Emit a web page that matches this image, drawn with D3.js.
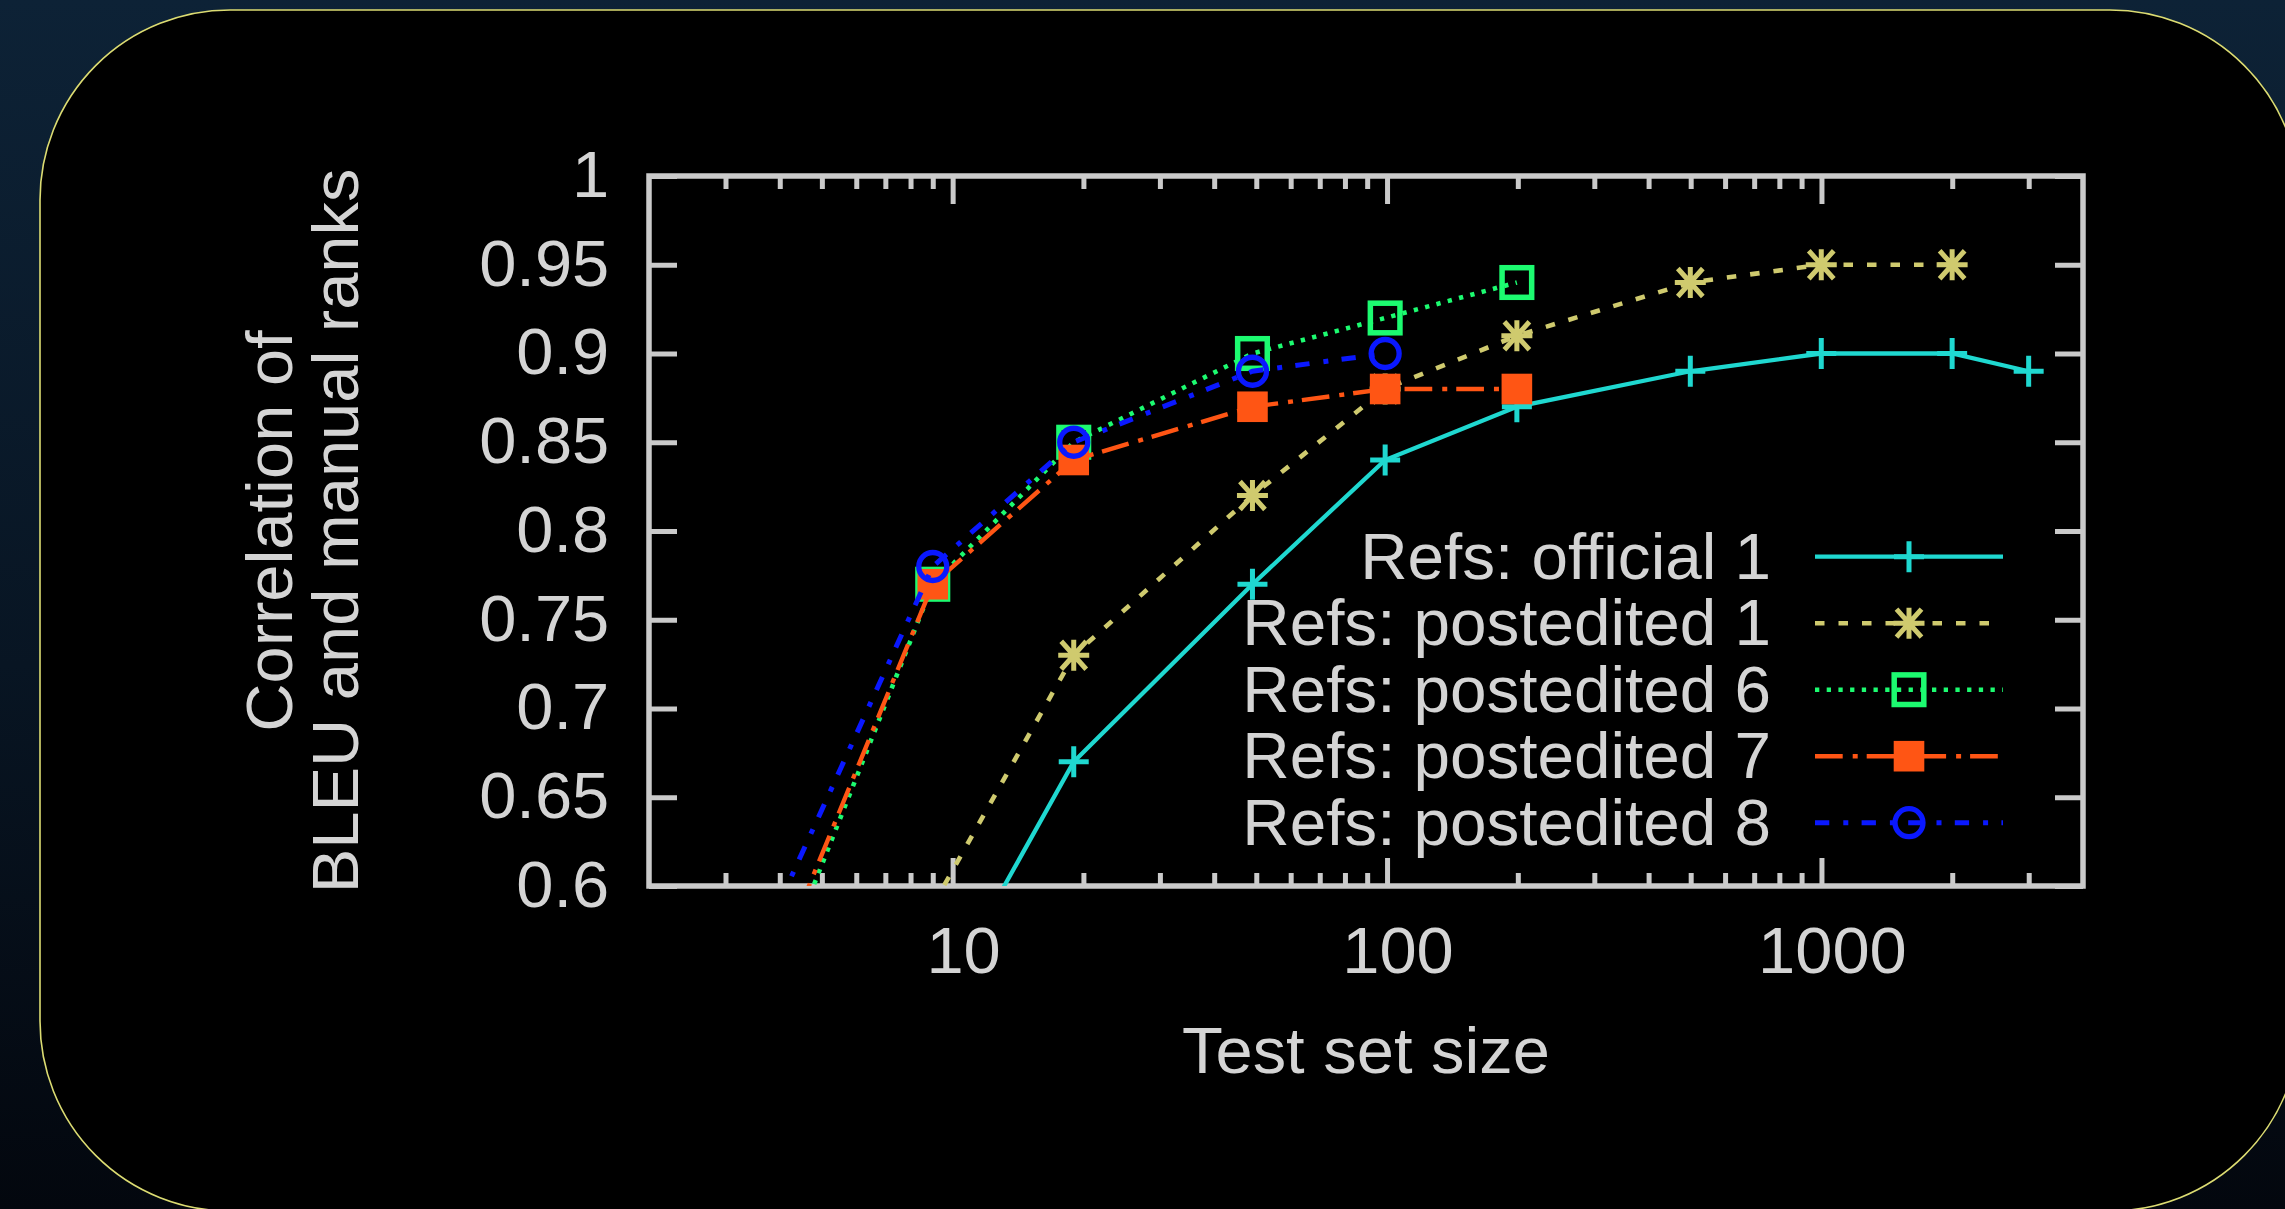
<!DOCTYPE html>
<html>
<head>
<meta charset="utf-8">
<script src="https://cdn.jsdelivr.net/npm/d3@7"></script>
<style>
  body { margin: 0; background: #050b15; }
  svg { display: block; }
  text { font-family: "Liberation Sans", Arial, sans-serif; fill: #d4d4d4; }
</style>
</head>
<body>
<svg id="chart" width="2285" height="1209"></svg>
<script>
// test set sizes (x) and the BLEU/manual rank correlation per reference set
const sizes = [4, 9, 19, 49, 99, 199, 499, 999, 1999, 2999];
const official1   = [null, 0.528, 0.67, 0.77, 0.84, 0.87, 0.89, 0.90, 0.90, 0.89];
const postedited1 = [null, 0.589, 0.73, 0.82, 0.88, 0.91, 0.94, 0.95, 0.95, null];
const postedited6 = [0.552, 0.77, 0.85, 0.90, 0.92, 0.94, null, null, null, null];
const postedited7 = [0.56, 0.77, 0.84, 0.87, 0.88, 0.88, null, null, null, null];
const postedited8 = [0.591, 0.78, 0.85, 0.89, 0.90, null, null, null, null, null];

const seriesNames = ["Refs: official 1", "Refs: postedited 1", "Refs: postedited 6",
                     "Refs: postedited 7", "Refs: postedited 8"];
const seriesValues = [official1, postedited1, postedited6, postedited7, postedited8];

const yTicks = [0.6, 0.65, 0.7, 0.75, 0.8, 0.85, 0.9, 0.95, 1];
const yTickLabels = ["0.6", "0.65", "0.7", "0.75", "0.8", "0.85", "0.9", "0.95", "1"];
const xMajor = [10, 100, 1000];
const xMajorLabels = ["10", "100", "1000"];
const xMinor = [3, 4, 5, 6, 7, 8, 9, 20, 30, 40, 50, 60, 70, 80, 90,
                200, 300, 400, 500, 600, 700, 800, 900, 2000, 3000];

// look of each series: gnuplot-ish colours, dash patterns and point types
const styles = [
  { color: "#1fd8d0", width: 4.3, dash: null,              mark: "plus" },
  { color: "#cfca6e", width: 4.6, dash: "9.5,14",          mark: "star" },
  { color: "#1cfb70", width: 4.6, dash: "4.3,7.4",         mark: "openSquare" },
  { color: "#ff5514", width: 4.4, dash: "27.7,10,5,9",     mark: "square" },
  { color: "#0a18ff", width: 5,   dash: "14.3,14,5,13.3",  mark: "circle" }
];

const W = 2285, H = 1209;
const plot = { left: 649, right: 2083, top: 176, bottom: 886 };
const stretch = 1.045;   // the original lettering is a touch wider than Liberation Sans
const legendStretch = 1.025;

const svg = d3.select("#chart");

// backdrop: dark starry blue, black rounded panel with thin yellow rim
const defs = svg.append("defs");
const bg = defs.append("linearGradient").attr("id", "bg")
    .attr("x1", 0).attr("y1", 0).attr("x2", 0).attr("y2", 1);
bg.append("stop").attr("offset", "0%").attr("stop-color", "#0d2236");
bg.append("stop").attr("offset", "55%").attr("stop-color", "#081523");
bg.append("stop").attr("offset", "100%").attr("stop-color", "#03070e");
svg.append("rect").attr("width", W).attr("height", H).attr("fill", "url(#bg)");

svg.append("rect")
    .attr("x", 40).attr("y", 10)
    .attr("width", 2260).attr("height", 1201)
    .attr("rx", 190).attr("ry", 190)
    .attr("fill", "#000")
    .attr("stroke", "#dcdc72")
    .attr("stroke-width", 1.6);

defs.append("clipPath").attr("id", "plotClip")
  .append("rect")
    .attr("x", plot.left).attr("y", plot.top)
    .attr("width", plot.right - plot.left).attr("height", plot.bottom - plot.top);

// scales
const x = d3.scaleLog().domain([2, 4000]).range([plot.left, plot.right]);
const y = d3.scaleLinear().domain([0.6, 1]).range([plot.bottom, plot.top]);

// axes: gnuplot style, ticks pointing inward on all four sides
const axisColor = "#cacaca";
function styleAxis(g) {
  g.select(".domain").remove();
  g.selectAll(".tick line").attr("stroke", axisColor).attr("stroke-width", 5);
  g.selectAll(".tick text").attr("fill", "#d4d4d4").style("font-size", "64px")
      .style("font-family", '"Liberation Sans", Arial, sans-serif')
      .attr("transform", `scale(${stretch},1)`);
}

svg.append("g")
    .attr("transform", `translate(0,${plot.bottom})`)
    .call(d3.axisBottom(x).tickValues(xMajor).tickSize(-28).tickPadding(42)
      .tickFormat((d, i) => xMajorLabels[i]))
    .call(styleAxis)
    .call(g => g.selectAll(".tick text").attr("x", 10));
svg.append("g")
    .attr("transform", `translate(0,${plot.bottom})`)
    .call(d3.axisBottom(x).tickValues(xMinor).tickSize(-13).tickFormat(""))
    .call(styleAxis);
svg.append("g")
    .attr("transform", `translate(0,${plot.top})`)
    .call(d3.axisTop(x).tickValues(xMajor).tickSize(-28).tickFormat(""))
    .call(styleAxis);
svg.append("g")
    .attr("transform", `translate(0,${plot.top})`)
    .call(d3.axisTop(x).tickValues(xMinor).tickSize(-13).tickFormat(""))
    .call(styleAxis);

svg.append("g")
    .attr("transform", `translate(${plot.left},0)`)
    .call(d3.axisLeft(y).tickValues(yTicks).tickSize(-28).tickPadding(38)
      .tickFormat((d, i) => yTickLabels[i]))
    .call(styleAxis);
svg.append("g")
    .attr("transform", `translate(${plot.right},0)`)
    .call(d3.axisRight(y).tickValues(yTicks).tickSize(-28).tickFormat(""))
    .call(styleAxis);

// frame
svg.append("rect")
    .attr("x", plot.left).attr("y", plot.top)
    .attr("width", plot.right - plot.left).attr("height", plot.bottom - plot.top)
    .attr("fill", "none")
    .attr("stroke", axisColor)
    .attr("stroke-width", 5.5);

// axis titles
svg.append("text")
    .attr("transform", `translate(${(plot.left + plot.right) / 2},1073) scale(${stretch},1)`)
    .attr("text-anchor", "middle")
    .style("font-size", "64px")
    .text("Test set size");

const yTitle = ["Correlation of", "BLEU and manual ranks"];
svg.selectAll(".ytitle")
  .data(yTitle)
  .enter().append("text")
    .attr("class", "ytitle")
    .attr("transform", (d, i) =>
      `translate(${292 + i * 66},${(plot.top + plot.bottom) / 2}) rotate(-90) scale(${stretch},1)`)
    .attr("text-anchor", "middle")
    .style("font-size", "64px")
    .text(d => d);

// point symbols
function drawMark(sel, type, color) {
  if (type === "plus") {
    sel.append("path").attr("d", "M-15,0H15M0,-15.5V15.5")
      .attr("stroke", color).attr("stroke-width", 5).attr("fill", "none");
  } else if (type === "star") {
    sel.append("path").attr("d", "M-15.5,0H15.5M0,-15.5V15.5M-12.5,-14L12.5,14M-12.5,14L12.5,-14")
      .attr("stroke", color).attr("stroke-width", 5).attr("fill", "none");
  } else if (type === "openSquare") {
    sel.append("rect").attr("x", -14.8).attr("y", -14.8).attr("width", 29.6).attr("height", 29.6)
      .attr("stroke", color).attr("stroke-width", 5.5).attr("fill", "none");
  } else if (type === "square") {
    sel.append("rect").attr("x", -15.3).attr("y", -15.3).attr("width", 30.6).attr("height", 30.6)
      .attr("fill", color);
  } else if (type === "circle") {
    sel.append("circle").attr("r", 14)
      .attr("stroke", color).attr("stroke-width", 5.3).attr("fill", "none");
  }
}

const line = d3.line()
    .defined(d => d.value !== null)
    .x(d => x(d.size))
    .y(d => y(d.value));

seriesValues.forEach((vals, si) => {
  const st = styles[si];
  const pts = sizes.map((s, i) => ({ size: s, value: vals[i] }));
  const g = svg.append("g");

  g.append("path")
      .datum(pts)
      .attr("clip-path", "url(#plotClip)")
      .attr("d", line)
      .attr("fill", "none")
      .attr("stroke", st.color)
      .attr("stroke-width", st.width)
      .attr("stroke-dasharray", st.dash);

  g.selectAll(".pt")
    .data(pts.filter(d => d.value !== null && d.value >= 0.6 && d.size >= 2))
    .enter().append("g")
      .attr("class", "pt")
      .attr("transform", d => `translate(${x(d.size)},${y(d.value)})`)
      .each(function() { drawMark(d3.select(this), st.mark, st.color); });
});

// legend (no box), text right-aligned, sample line + point
const legend = { textRight: 1771, lineStart: 1815, lineEnd: 2003, top: 556.7, step: 66.5 };
const leg = svg.selectAll(".leg")
  .data(seriesNames)
  .enter().append("g")
    .attr("class", "leg")
    .attr("transform", (d, i) => `translate(0,${legend.top + i * legend.step})`);

leg.append("text")
    .attr("transform", `translate(${legend.textRight},22) scale(${legendStretch},1)`)
    .attr("text-anchor", "end")
    .style("font-size", "64px")
    .text(d => d);

leg.append("line")
    .attr("x1", legend.lineStart).attr("x2", legend.lineEnd)
    .attr("stroke", (d, i) => styles[i].color)
    .attr("stroke-width", (d, i) => styles[i].width)
    .attr("stroke-dasharray", (d, i) => styles[i].dash);

leg.append("g")
    .attr("transform", `translate(${(legend.lineStart + legend.lineEnd) / 2},0)`)
    .each(function(d, i) { drawMark(d3.select(this), styles[i].mark, styles[i].color); });
</script>
</body>
</html>
